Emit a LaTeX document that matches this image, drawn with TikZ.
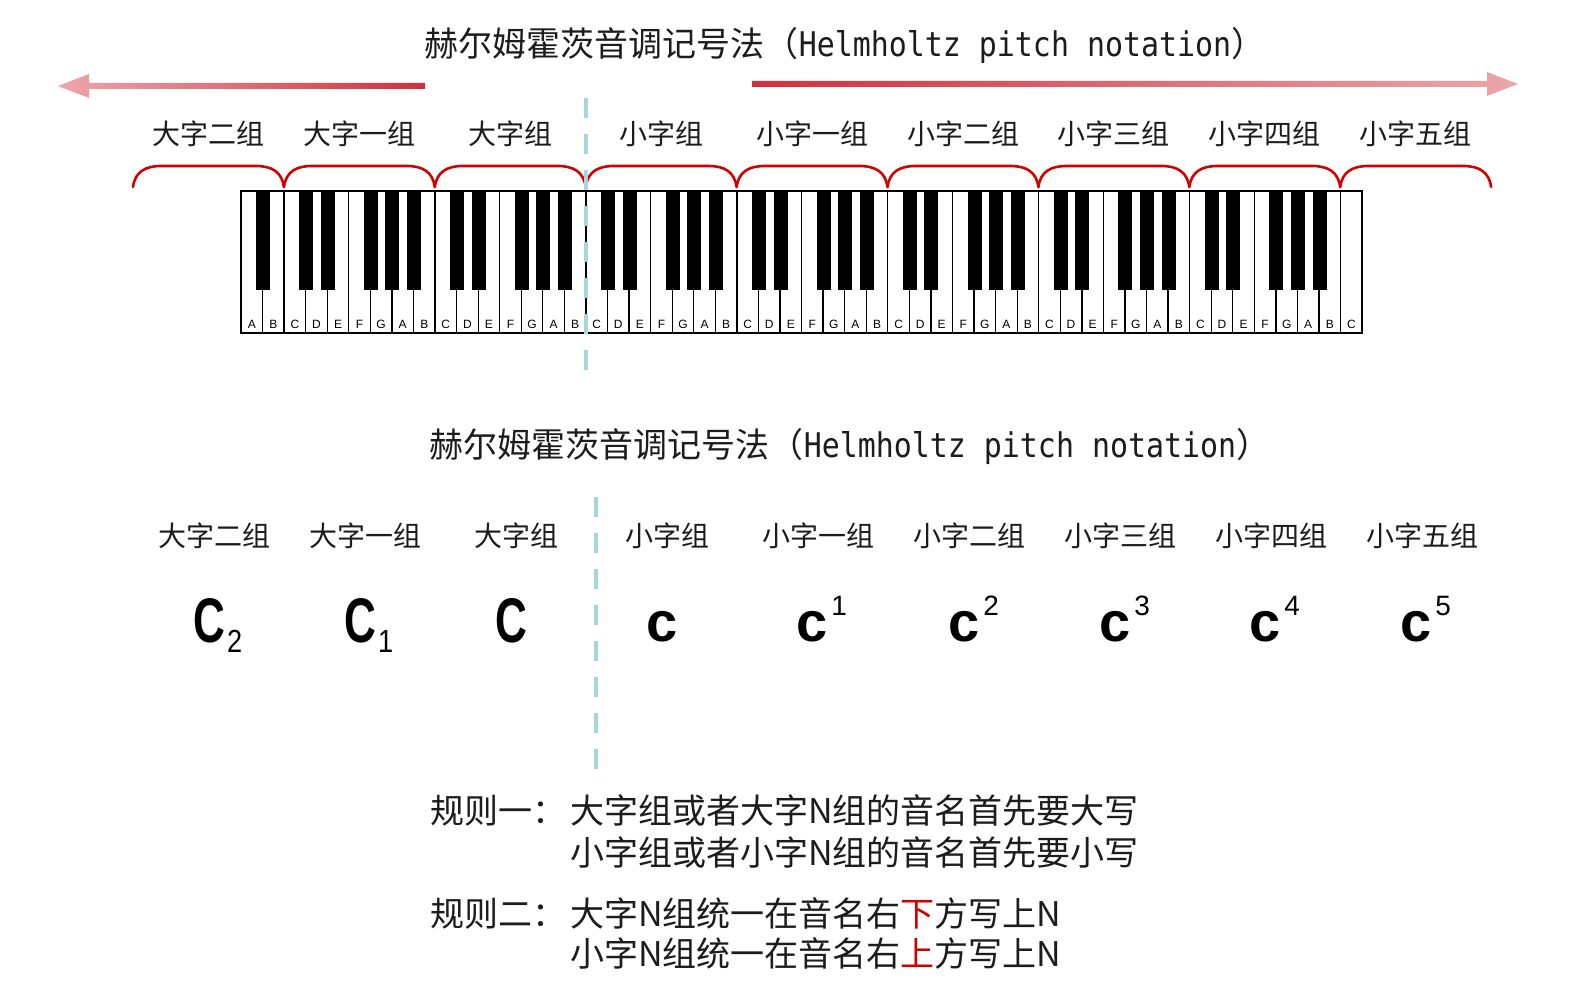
\documentclass[tikz,border=0pt]{standalone}
\usepackage{fontspec}
\setmainfont{Noto Sans CJK SC}
\newfontfamily\monofont{DejaVu Sans Mono}
\newfontfamily\notefont{Liberation Sans}
\usetikzlibrary{arrows.meta,positioning}
\definecolor{BraceRed}{HTML}{D40000}
\definecolor{RuleRed}{HTML}{D00000}
\definecolor{ArrowRed}{HTML}{D0303D}
\definecolor{ArrowPink}{HTML}{ECA6AB}
\definecolor{DashBlue}{HTML}{A9D6DD}
\definecolor{InkGray}{HTML}{1C1C1C}
\newcommand{\helm}[1]{\scalebox{0.88}[1]{\monofont #1}}
\newcommand{\bigC}{\scalebox{0.7}[1]{\notefont\bfseries\fontsize{63}{63}\selectfont C}}
\newcommand{\smallc}{{\notefont\bfseries\fontsize{56}{56}\selectfont c}}
\newcommand{\lowdigit}[1]{\raisebox{-10pt}{\scalebox{0.85}[1]{\notefont\fontsize{32}{32}\selectfont #1}}}
\newcommand{\highdigit}[1]{\raisebox{26pt}{\notefont\fontsize{28}{28}\selectfont #1}}

\begin{document}
\begin{tikzpicture}[
  x=1pt, y=-1pt,
  font=\fontsize{28}{32}\selectfont,
  text=InkGray,
  titletext/.style={anchor=base, inner sep=0pt, font=\fontsize{34}{40}\selectfont},
  grouplabel/.style={anchor=base, inner sep=0pt},
  brace/.style={draw=BraceRed, line width=2.6pt, line cap=round},
  divider/.style={draw=DashBlue, line width=4pt, dash pattern=on 20pt off 16pt},
  whitekey/.style={draw=black, line width=1.3pt, fill=white},
  blackkey/.style={fill=black},
  keyname/.style={anchor=base, inner sep=0pt, text=black, font=\notefont\fontsize{12}{12}\selectfont},
  note/.style={anchor=base west, inner sep=0pt, text=black},
  ruletext/.style={anchor=base west, inner sep=0pt, font=\fontsize{34}{40}\selectfont}
]
  \fill[white] (0,0) rectangle (1576,1000);
  \useasboundingbox (0,0) rectangle (1576,1000);

  % upper half: keyboard with the groups
  \node[titletext] (titletop) at (845,57)
    {赫尔姆霍茨音调记号法（\helm{Helmholtz pitch notation}）};

  \shade[left color=ArrowPink, right color=ArrowRed]
    (58,86) -- (89,74) -- (89,83) -- (425,83) -- (425,89) -- (89,89) -- (89,98) -- cycle;
  \shade[left color=ArrowRed, right color=ArrowPink]
    (752,81) -- (1487,81) -- (1487,72) -- (1518,84) -- (1487,96) -- (1487,87) -- (752,87) -- cycle;

  \foreach \lab [count=\j from 0] in {大字二组,大字一组,大字组,小字组,小字一组,小字二组,小字三组,小字四组,小字五组} {
    \node[grouplabel] (top\j) at (208.5+\j*150.9,145) {\lab};
    \node[grouplabel] (low\j) at (214.5+\j*151,546) {\lab};
  }

  \foreach \j in {0,...,8} {
    \pgfmathsetmacro{\bx}{133+\j*150.9}
    \draw[brace] (\bx,187) .. controls (\bx+2,172) and (\bx+12,166) .. (\bx+28,166)
      -- (\bx+122.9,166) .. controls (\bx+138.9,166) and (\bx+148.9,172) .. (\bx+150.9,187);
  }

  \foreach \i in {0,...,51} {
    \pgfmathsetmacro{\kx}{241+\i*21.56}
    \pgfmathtruncatemacro{\kl}{mod(\i,7)}
    \draw[whitekey] (\kx,191) rectangle ++(21.56,142);
    \node[keyname] (key\i) at (\kx+10.78,328)
      {\ifcase\kl\relax A\or B\or C\or D\or E\or F\or G\fi};
  }
  \foreach \i in {0,...,50} {
    \pgfmathtruncatemacro{\kl}{mod(\i,7)}
    \ifnum\kl=1 \else\ifnum\kl=4 \else
      \fill[blackkey] (241+\i*21.56+21.56+0.5-7,191) rectangle ++(14,99);
    \fi\fi
  }
  \draw[line width=1.8pt] (241,191) rectangle (1362,333);

  \draw[divider] (586,98) -- (586,378);

  % lower half: the written names
  \node[titletext] (titlelow) at (850,457)
    {赫尔姆霍茨音调记号法（\helm{Helmholtz pitch notation}）};

  \draw[divider] (596,497) -- (596,779);

  \node[note] (noteCii) at (193,642) {\bigC\hspace{2pt}\lowdigit{2}};
  \node[note] (noteCi) at (344,642) {\bigC\hspace{2pt}\lowdigit{1}};
  \node[note] (noteC) at (495,642) {\bigC};
  \node[note] (notec) at (646,641) {\smallc};
  \node[note] (noteci) at (796,641) {\smallc\hspace{4pt}\highdigit{1}};
  \node[note] (notecii) at (948,641) {\smallc\hspace{4pt}\highdigit{2}};
  \node[note] (noteciii) at (1099,641) {\smallc\hspace{4pt}\highdigit{3}};
  \node[note] (noteciv) at (1249,641) {\smallc\hspace{4pt}\highdigit{4}};
  \node[note] (notecv) at (1400,641) {\smallc\hspace{4pt}\highdigit{5}};

  \node[ruletext] (rule1head) at (430,823) {规则一：};
  \node[ruletext] (rule1a) at (570,823) {大字组或者大字N组的音名首先要大写};
  \node[ruletext] (rule1b) at (570,865) {小字组或者小字N组的音名首先要小写};
  \node[ruletext] (rule2head) at (430,926) {规则二：};
  \node[ruletext] (rule2a) at (570,926) {大字N组统一在音名右\textcolor{RuleRed}{下}方写上N};
  \node[ruletext] (rule2b) at (570,966) {小字N组统一在音名右\textcolor{RuleRed}{上}方写上N};
\end{tikzpicture}
\end{document}
